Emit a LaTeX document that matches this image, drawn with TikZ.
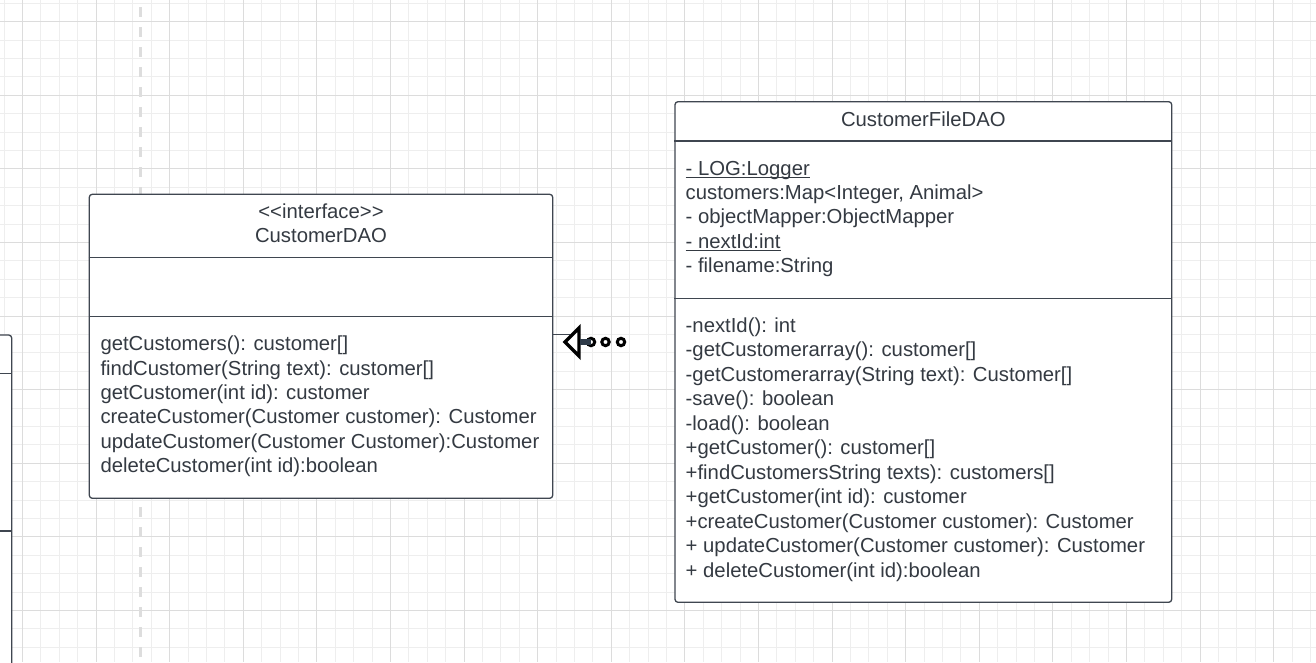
\documentclass[tikz,border=0pt]{standalone}
\usepackage{fontspec}
\setmainfont{Liberation Sans}[Ligatures=TeXOff]
\definecolor{gridminor}{HTML}{EEEEEE}
\definecolor{gridmajor}{HTML}{DCDCDC}
\definecolor{dashgray}{HTML}{DDDDDD}
\definecolor{boxedge}{HTML}{3F4650}
\definecolor{txtcol}{HTML}{343A42}
\definecolor{blobcol}{HTML}{2E3A48}
\tikzset{
  minorgrid/.style={draw=gridminor, line width=0.9pt},
  majorgrid/.style={draw=gridmajor, line width=1.1pt},
  lifeline/.style={draw=dashgray, line width=3pt, dash pattern=on 10pt off 10pt},
  classbox/.style={draw=boxedge, fill=white, line width=1.3pt, rounded corners=3pt, inner sep=0pt},
  sepline/.style={draw=boxedge, line width=1.2pt},
  txt/.style={inner sep=0pt, text=txtcol, font=\fontsize{20.3pt}{24.5pt}\selectfont},
  stub/.style={draw=boxedge, line width=1pt},
  realtri/.style={draw=black, line width=3.4pt, line join=miter, fill=white},
  dotc/.style={circle, draw=black, fill=white, line width=3pt, minimum size=7.4pt, inner sep=0pt},
}
\begin{document}
\begin{tikzpicture}[x=1pt, y=-1pt]
\useasboundingbox (0,0) rectangle (1316,662);
\fill[white] (0,0) rectangle (1316,662);
% grid
\foreach \k in {-1,...,70} {\draw[minorgrid] ({22.5+18.4*\k},0) -- ({22.5+18.4*\k},662);}
\foreach \k in {-1,...,35} {\draw[minorgrid] (0,{21.7+18.4*\k}) -- (1316,{21.7+18.4*\k});}
\foreach \k in {0,...,17} {\draw[majorgrid] ({22.5+73.6*\k},0) -- ({22.5+73.6*\k},662);}
\foreach \k in {0,...,8} {\draw[majorgrid] (0,{21.7+73.6*\k}) -- (1316,{21.7+73.6*\k});}
% dashed lifeline
\coordinate (lltop) at (140.3,7);
\coordinate (llbot) at (140.3,662);
\draw[lifeline] (lltop) -- (llbot);
% partial box at left edge
\node[classbox, minimum width=40pt, minimum height=400pt] (leftbox) at (-8.3,535) {};
\draw[sepline] (leftbox.west |- 0,373.3) -- (leftbox.east |- 0,373.3);
\draw[sepline] (leftbox.west |- 0,531) -- (leftbox.east |- 0,531);
% CustomerDAO
\node[classbox, minimum width=463.4pt, minimum height=304pt] (dao) at (321,346.3) {};
\draw[sepline] (dao.west |- 0,257.3) -- (dao.east |- 0,257.3);
\draw[sepline] (dao.west |- 0,316.7) -- (dao.east |- 0,316.7);
\node[txt, anchor=base] (daost) at (321,218.3) {<<interface>>};
\node[txt, anchor=base] (daoname) at (321,242.7) {CustomerDAO};
\foreach \t [count=\i] in {
  {getCustomers(): customer[]},
  {findCustomer(String text): customer[]},
  {getCustomer(int id): customer},
  {createCustomer(Customer customer): Customer},
  {updateCustomer(Customer Customer):Customer},
  {deleteCustomer(int id):boolean}} {
  \node[txt, anchor=base west] (dm\i) at (100.3,{350.7+24.4*(\i-1)}) {\t};
}
% CustomerFileDAO
\node[classbox, minimum width=496.7pt, minimum height=500.6pt] (fdao) at (923.35,352) {};
\draw[sepline] (fdao.west |- 0,141) -- (fdao.east |- 0,141);
\draw[sepline] (fdao.west |- 0,298.3) -- (fdao.east |- 0,298.3);
\node[txt, anchor=base] (fname) at (923.35,126) {CustomerFileDAO};
\foreach \t [count=\i] in {
  {- LOG:Logger},
  {customers:Map<Integer, Animal>},
  {- objectMapper:ObjectMapper},
  {- nextId:int},
  {- filename:String}} {
  \node[txt, anchor=base west] (fa\i) at (685.5,{175+24.4*(\i-1)}) {\t};
}
\draw[draw=txtcol, line width=1pt] ([yshift=-2.6pt]fa1.base west) -- ([yshift=-2.6pt]fa1.base east);
\draw[draw=txtcol, line width=1pt] ([yshift=-2.6pt]fa4.base west) -- ([yshift=-2.6pt]fa4.base east);
\foreach \t [count=\i] in {
  {-nextId(): int},
  {-getCustomerarray(): customer[]},
  {-getCustomerarray(String text): Customer[]},
  {-save(): boolean},
  {-load(): boolean},
  {+getCustomer(): customer[]},
  {+findCustomersString texts): customers[]},
  {+getCustomer(int id): customer},
  {+createCustomer(Customer customer): Customer},
  {+ updateCustomer(Customer customer): Customer},
  {+ deleteCustomer(int id):boolean}} {
  \node[txt, anchor=base west] (fm\i) at (685.5,{332.3+24.5*(\i-1)}) {\t};
}
% realization connector
\coordinate (stubend) at (570,334.3);
\coordinate (tip) at (565,342);
\draw[stub] (dao.north east |- stubend) -- (stubend);
\draw[realtri] (tip) -- ++(14,-14) -- ++(0,28) -- cycle;
\node[dotc] (d1) at (591,342) {};
\node[dotc] (d2) at (605.5,342) {};
\node[dotc] (d3) at (621,342) {};
\draw[draw=blobcol, line width=6.5pt] (tip -| 580,0) -- (d1.center);
\end{tikzpicture}
\end{document}
